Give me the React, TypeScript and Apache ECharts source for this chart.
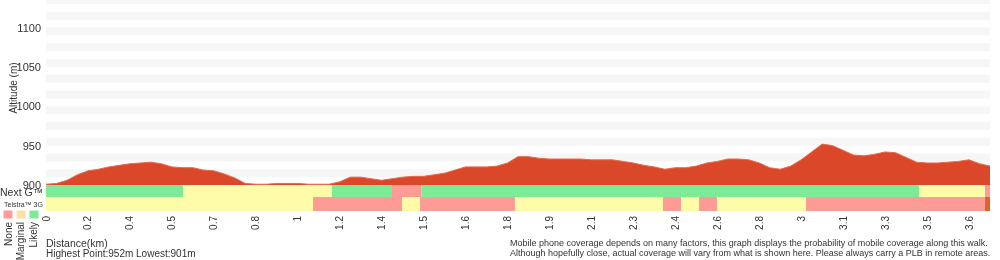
import { useEffect, useRef } from 'react';
import * as echarts from 'echarts';

// Distance tick labels (km), one per 4 profile samples
const tickLabels = ['0', '0.2', '0.4', '0.5', '0.7', '0.8', '1', '1.2', '1.4', '1.5', '1.6', '1.8', '1.9', '2.1', '2.3', '2.4', '2.6', '2.8', '3', '3.1', '3.3', '3.5', '3.6'];

// Elevation (m) per profile sample
const elevation = [
  901, 902, 906, 913, 918, 920, 923, 925, 927, 928,
  929, 927, 923, 922, 922, 919, 918, 914, 909, 902,
  901, 901, 902, 902, 902, 901, 901, 901, 904, 910,
  910, 908, 906, 908, 910, 911, 911, 913, 915, 919,
  923, 923, 923, 924, 928, 936, 936, 934, 933, 933,
  933, 933, 932, 932, 932, 930, 928, 925, 923, 920,
  922, 922, 924, 928, 930, 933, 933, 932, 928, 922,
  920, 924, 932, 942, 952, 950, 944, 938, 937, 939,
  942, 941, 935, 929, 928, 928, 929, 930, 932, 927,
  924,
];

// Coverage segments: [start sample, end sample, level] level 0 none, 1 marginal, 2 likely, 3 no data
const nextGCoverage = [
  [0, 13.06, 2], [13.06, 27.27, 1], [27.27, 32.99, 2], [32.99, 35.8, 0],
  [35.8, 83.23, 2], [83.23, 89.52, 1], [89.52, 90, 0],
];
const telstra3GCoverage = [
  [0, 25.46, 1], [25.46, 33.94, 0], [33.94, 35.66, 1], [35.66, 44.71, 0],
  [44.71, 58.82, 1], [58.82, 60.54, 0], [60.54, 62.26, 1], [62.26, 63.97, 0],
  [63.97, 72.46, 1], [72.46, 89.52, 0], [89.52, 90, 3],
];

const levelColors = ['#ff9b96', '#fffca9', '#7dea96', '#e0632d'];
const legendLabels = ['None', 'Marginal', 'Likely'];
const legendColors = ['#ff9b9b', '#ffe0a6', '#7dea96'];

const FONT = '"Liberation Sans", Arial, Helvetica, sans-serif';
const TEXT = '#333';

export default function App() {
  const ref = useRef<HTMLDivElement>(null);
  useEffect(() => {
    if (!ref.current) return;
    const chart = echarts.init(ref.current, undefined, { renderer: 'svg' });
    const renderCov = (params: any, api: any) => {
      const s = api.coord([api.value(0), 1]);
      const e = api.coord([api.value(1), 0]);
      return {
        type: 'rect',
        shape: { x: s[0], y: s[1], width: e[0] - s[0], height: e[1] - s[1] },
        style: { fill: levelColors[api.value(2)] },
      };
    };
    const lastIdx = elevation.length - 1;
    const hiddenX = (gridIndex: number) => ({
      type: 'value', gridIndex, min: 0, max: lastIdx, show: false,
    });
    chart.setOption({
      animation: false,
      textStyle: { fontFamily: FONT },
      grid: [
        { left: 46, right: 10, top: 0, height: 185 },
        { left: 46, right: 10, top: 185, height: 12 },
        { left: 46, right: 10, top: 197, height: 14 },
      ],
      xAxis: [
        hiddenX(0),
        hiddenX(1),
        {
          type: 'value', gridIndex: 2, min: 0, max: lastIdx, interval: 4,
          axisLine: { show: false }, axisTick: { show: false }, splitLine: { show: false },
          axisLabel: {
            rotate: 90, margin: 5, fontSize: 10, color: TEXT, fontFamily: FONT,
            formatter: (v: number) => (v % 4 === 0 && tickLabels[v / 4] !== undefined ? tickLabels[v / 4] : ''),
          },
        },
      ],
      yAxis: [
        {
          type: 'value', gridIndex: 0, min: 900, max: 1135, interval: 10,
          axisLine: { show: false }, axisTick: { show: false }, splitLine: { show: false },
          splitArea: { show: true, areaStyle: { color: ['rgba(255,255,255,0)', '#f6f6f6'] } },
          axisLabel: {
            margin: 5, fontSize: 11, color: TEXT, fontFamily: FONT,
            formatter: (v: number) => (v % 50 === 0 ? String(v) : ''),
          },
        },
        { type: 'value', gridIndex: 1, min: 0, max: 1, show: false },
        { type: 'value', gridIndex: 2, min: 0, max: 1, show: false },
      ],
      series: [
        {
          type: 'line', xAxisIndex: 0, yAxisIndex: 0,
          data: elevation.map((v, i) => [i, v]),
          showSymbol: false, symbol: 'none',
          lineStyle: { color: '#e46a4f', width: 1 },
          areaStyle: { color: '#db4729', opacity: 1 },
        },
        {
          type: 'custom', xAxisIndex: 1, yAxisIndex: 1,
          data: nextGCoverage, renderItem: renderCov, encode: { x: [0, 1] },
        },
        {
          type: 'custom', xAxisIndex: 2, yAxisIndex: 2,
          data: telstra3GCoverage, renderItem: renderCov, encode: { x: [0, 1] },
        },
      ],
      graphic: [
        {
          type: 'text', x: 13, y: 88, rotation: Math.PI / 2,
          style: { text: 'Altitude (m)', fontSize: 10, fill: TEXT, fontFamily: FONT, align: 'center', verticalAlign: 'middle' },
        },
        {
          type: 'text', x: 0, y: 192,
          style: { text: 'Next G™', fontSize: 10.5, fill: TEXT, fontFamily: FONT, align: 'left', verticalAlign: 'middle' },
        },
        {
          type: 'text', x: 4, y: 204.5,
          style: { text: 'Telstra™ 3G', fontSize: 7, fill: TEXT, fontFamily: FONT, align: 'left', verticalAlign: 'middle' },
        },
        ...legendColors.map((c, i) => ({
          type: 'rect', shape: { x: 3.5 + i * 13, y: 210.5, width: 9, height: 8 },
          style: { fill: c },
        })),
        ...legendLabels.map((t, i) => ({
          type: 'text', x: 8 + i * 12.5, y: 222, rotation: Math.PI / 2,
          style: { text: t, fontSize: 10, fill: TEXT, fontFamily: FONT, align: 'right', verticalAlign: 'middle' },
        })),
        {
          type: 'text', x: 46, y: 243,
          style: { text: 'Distance(km)', fontSize: 10.5, fill: TEXT, fontFamily: FONT, align: 'left', verticalAlign: 'middle' },
        },
        {
          type: 'text', x: 46, y: 253,
          style: { text: 'Highest Point:952m Lowest:901m', fontSize: 10, fill: TEXT, fontFamily: FONT, align: 'left', verticalAlign: 'middle' },
        },
        {
          type: 'text', x: 510, y: 243,
          style: { text: 'Mobile phone coverage depends on many factors, this graph displays the probability of mobile coverage along this walk.', fontSize: 9, fill: TEXT, fontFamily: FONT, align: 'left', verticalAlign: 'middle' },
        },
        {
          type: 'text', x: 510, y: 253,
          style: { text: 'Although hopefully close, actual coverage will vary from what is shown here. Please always carry a PLB in remote areas.', fontSize: 9, fill: TEXT, fontFamily: FONT, align: 'left', verticalAlign: 'middle' },
        },
      ],
    });
    return () => chart.dispose();
  }, []);
  return <div ref={ref} style={{ position: 'fixed', left: 0, top: 0, width: 1000, height: 260 }} />;
}
